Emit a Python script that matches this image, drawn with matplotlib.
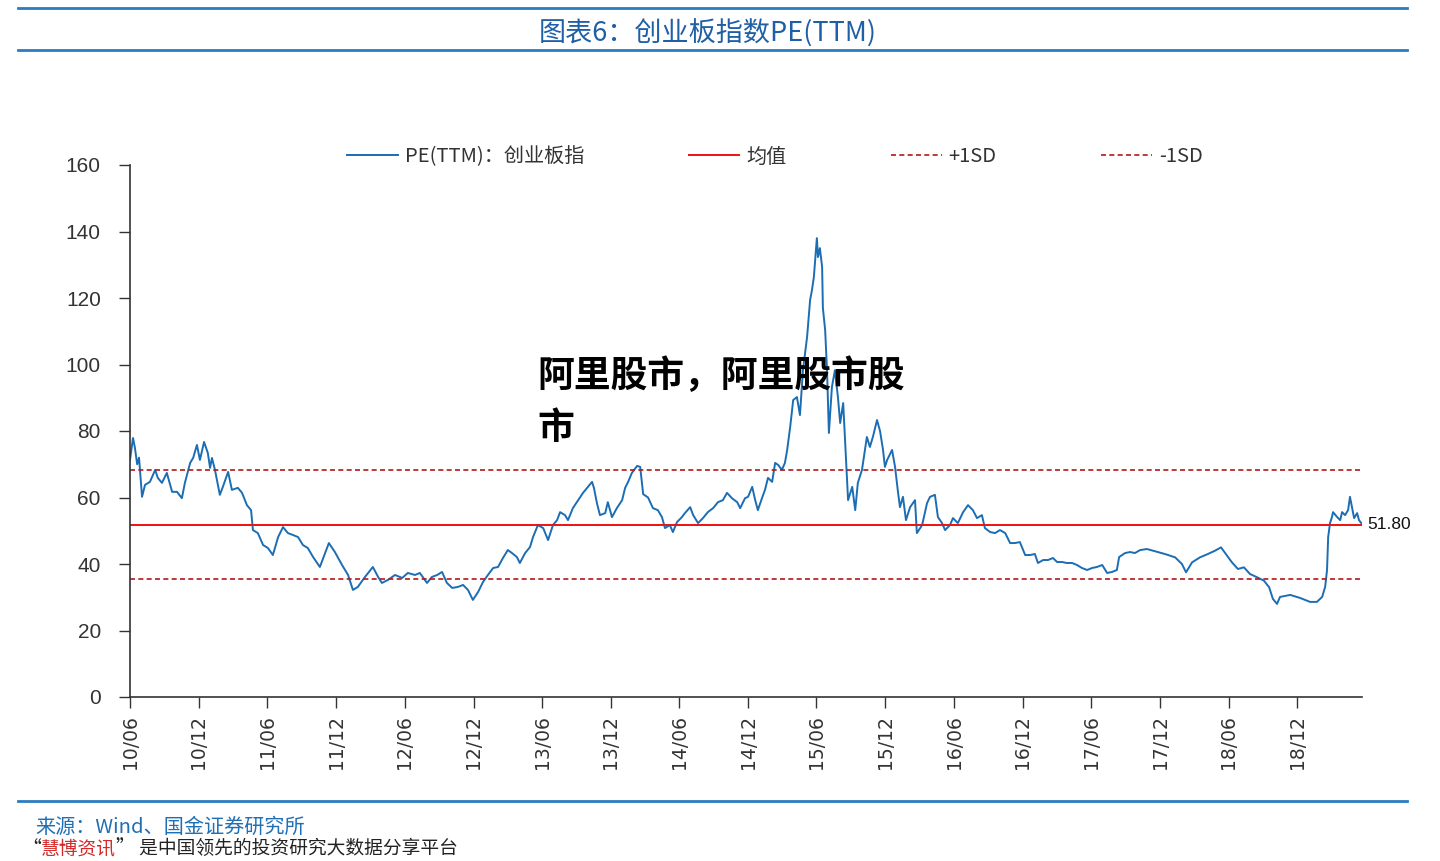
import numpy as np
import pandas as pd
import matplotlib
matplotlib.use("Agg")
import matplotlib.pyplot as plt
import matplotlib.dates as mdates
import matplotlib.transforms as mtransforms
from matplotlib.lines import Line2D

CJK = ['Noto Sans CJK SC', 'DejaVu Sans']
plt.rcParams['font.family'] = CJK

# ChiNext PE(TTM), values (month-day per year)
days_2010 = ['06-01', '06-09', '06-14', '06-20', '06-25', '07-03', '07-11', '07-24', '08-07', '08-14',
             '08-25', '09-07', '09-21', '10-04', '10-17', '10-25', '11-08', '11-16', '11-26', '12-04',
             '12-15', '12-25', '12-31']
pe_2010 = [71.3, 77.9, 75.0, 70.0, 72.0, 60.2, 63.8, 64.7, 68.3, 65.9,
           64.4, 67.4, 61.7, 61.7, 59.8, 64.4, 70.4, 71.9, 75.8, 71.3,
           76.7, 73.4, 68.9]

days_2011 = ['01-05', '01-13', '01-26', '02-03', '02-17', '02-27', '03-15', '03-26', '04-08', '04-19',
             '04-24', '05-07', '05-21', '06-03', '06-16', '06-30', '07-13', '07-26', '08-09', '08-22',
             '09-04', '09-17', '10-01', '10-19', '11-02', '11-12', '11-28', '12-17']
pe_2011 = [71.9, 68.3, 60.8, 63.2, 67.7, 62.3, 62.9, 61.4, 57.7, 56.2,
           50.2, 49.3, 45.7, 44.8, 42.7, 48.1, 51.1, 49.3, 48.7, 48.1,
           45.7, 44.8, 42.1, 39.1, 43.3, 46.3, 43.6, 39.7]

days_2012 = ['01-02', '01-15', '01-28', '02-16', '03-08', '03-22', '04-01', '04-17', '05-06', '05-25',
             '06-09', '06-28', '07-11', '07-30', '08-12', '08-26', '09-08', '09-21', '10-05', '10-20',
             '11-03', '11-16', '11-29', '12-13', '12-26']
pe_2012 = [36.7, 32.2, 33.1, 36.1, 39.1, 36.1, 34.3, 35.2, 36.7, 35.8,
           37.3, 36.7, 37.3, 34.3, 36.1, 36.7, 37.6, 34.3, 32.8, 33.1,
           33.7, 32.2, 29.2, 31.6, 34.6]

days_2013 = ['01-08', '01-22', '02-04', '02-17', '03-02', '03-13', '03-26', '04-03', '04-17', '04-30',
             '05-08', '05-21', '06-04', '06-17', '06-30', '07-11', '07-19', '08-01', '08-09', '08-22',
             '09-05', '09-18', '10-01', '10-12', '10-17', '10-25', '11-02', '11-16', '11-23', '12-04',
             '12-17', '12-31']
pe_2013 = [36.7, 38.8, 39.1, 41.8, 44.2, 43.3, 42.1, 40.3, 43.3, 45.1,
           48.1, 51.7, 50.8, 47.2, 51.7, 53.2, 55.6, 54.7, 53.2, 56.8,
           59.2, 61.4, 63.2, 64.7, 62.9, 58.3, 54.7, 55.3, 58.6, 54.1,
           56.8, 59.2]

days_2014 = ['01-08', '01-16', '01-26', '02-09', '02-17', '02-25', '03-10', '03-23', '04-05', '04-16',
             '04-24', '05-07', '05-15', '05-26', '06-08', '06-16', '06-30', '07-08', '07-21', '08-03',
             '08-16', '08-30', '09-12', '09-25', '10-06', '10-19', '11-02', '11-10', '11-23', '12-01',
             '12-12', '12-20', '12-27']
pe_2014 = [62.9, 64.7, 67.4, 69.5, 69.2, 61.0, 60.0, 56.8, 56.2, 54.1,
           50.8, 51.7, 49.6, 52.6, 54.1, 55.3, 57.1, 54.7, 52.3, 53.8,
           55.6, 56.8, 58.6, 59.2, 61.4, 59.8, 58.6, 56.8, 59.8, 60.2,
           63.2, 59.2, 56.2]

days_2015 = ['01-07', '01-15', '01-23', '02-03', '02-11', '02-19', '03-01', '03-09', '03-15', '03-23',
             '03-31', '04-10', '04-18', '04-26', '05-07', '05-15', '05-20', '05-25', '06-02', '06-05',
             '06-10', '06-16', '06-18', '06-24', '06-29', '07-04', '07-12', '07-20', '07-28', '08-03',
             '08-11', '08-19', '08-24', '09-04', '09-12', '09-19', '09-30', '10-13', '10-21', '10-29',
             '11-09', '11-17', '11-25', '11-30', '12-06', '12-19', '12-27']
pe_2015 = [59.8, 62.3, 65.9, 64.7, 70.4, 69.8, 68.3, 70.4, 74.3, 81.2,
           89.3, 90.2, 84.8, 98.3, 108.3, 119.4, 122.4, 126.3, 138.0, 132.3,
           135.0, 129.3, 117.0, 110.4, 98.3, 79.4, 93.2, 98.3, 90.2, 82.4,
           88.4, 70.4, 59.2, 63.2, 56.2, 64.4, 68.3, 78.2, 75.2, 78.2,
           83.3, 80.0, 74.3, 69.2, 71.3, 74.3, 69.2]

days_2016 = ['01-04', '01-09', '01-17', '01-25', '02-05', '02-18', '02-23', '03-08', '03-21', '03-29',
             '04-11', '04-19', '04-30', '05-08', '05-21', '05-29', '06-11', '06-25', '07-08', '07-21',
             '08-01', '08-14', '08-22', '09-05', '09-18', '10-01', '10-15', '10-28', '11-10', '11-23',
             '12-07', '12-20']
pe_2016 = [61.4, 57.1, 60.2, 53.2, 57.1, 59.2, 49.3, 51.7, 58.3, 60.2,
           60.8, 54.1, 52.3, 50.2, 51.7, 53.8, 52.3, 55.6, 57.7, 56.2,
           53.8, 54.7, 50.8, 49.6, 49.3, 50.2, 49.3, 46.3, 46.3, 46.6,
           42.7, 42.7]

days_2017 = ['01-02', '01-10', '01-24', '02-06', '02-19', '03-02', '03-15', '03-28', '04-11', '04-24',
             '05-07', '05-21', '06-03', '06-16', '06-30', '07-13', '07-26', '08-08', '08-14', '08-30',
             '09-12', '09-25', '10-09', '10-27', '11-18', '12-14']
pe_2017 = [43.0, 40.3, 41.2, 41.2, 41.8, 40.6, 40.6, 40.3, 40.3, 39.7,
           38.8, 38.2, 38.8, 39.1, 39.7, 37.3, 37.6, 38.2, 42.1, 43.3,
           43.6, 43.3, 44.2, 44.5, 43.8, 43.0]

days_2018 = ['01-10', '01-28', '02-08', '02-24', '03-17', '04-07', '04-26', '05-12', '05-25', '06-10',
             '06-26', '07-12', '07-28', '08-16', '09-03', '09-17', '09-27', '10-08', '10-16', '11-12',
             '12-08']
pe_2018 = [42.0, 40.0, 37.5, 40.5, 42.0, 43.0, 44.0, 45.0, 43.0, 40.5,
           38.5, 39.0, 37.0, 36.0, 35.0, 33.0, 29.5, 28.0, 30.1, 30.7,
           29.8]

days_2019 = ['01-04', '01-22', '02-05', '02-13', '02-18', '02-21', '02-26', '03-03', '03-06', '03-17',
             '03-25', '03-30', '04-07', '04-15', '04-20', '04-26', '05-01', '05-09', '05-14', '05-20']
pe_2019 = [28.6, 28.6, 30.1, 33.1, 38.2, 48.1, 52.3, 54.1, 55.6, 54.1,
           53.2, 55.6, 54.7, 56.2, 60.2, 56.8, 53.8, 55.3, 53.2, 52.3]

pe_mean = 51.80
pe_sd = 16.45

years = {2010: (days_2010, pe_2010), 2011: (days_2011, pe_2011), 2012: (days_2012, pe_2012),
         2013: (days_2013, pe_2013), 2014: (days_2014, pe_2014), 2015: (days_2015, pe_2015),
         2016: (days_2016, pe_2016), 2017: (days_2017, pe_2017), 2018: (days_2018, pe_2018),
         2019: (days_2019, pe_2019)}

dates = []
values = []
for yr, (days, vals) in years.items():
    dates += [f"{yr}-{d}" for d in days]
    values += vals
dates = pd.to_datetime(dates)
values = np.array(values)

W, H = 1440, 861
fig = plt.figure(figsize=(W / 100, H / 100), dpi=100)
ax = fig.add_axes([130 / W, 1 - 697 / H, (1362 - 130) / W, (697 - 165) / H])

blue = '#1b6db4'
ax.plot(dates, values, color=blue, lw=1.4, label='PE(TTM)：创业板指')
ax.axhline(pe_mean, color='#ee1111', lw=1.4, label='均值')
ax.axhline(pe_mean + pe_sd, color='#b51818', lw=1.2, ls=(0, (3, 2)), label='+1SD')
ax.axhline(pe_mean - pe_sd, color='#b51818', lw=1.2, ls=(0, (3, 2)), label='-1SD')

ax.set_xlim(pd.Timestamp('2010-06-01'), pd.Timestamp('2019-05-22'))
ax.set_ylim(0, 160)
ax.set_yticks(np.arange(0, 161, 20))
ax.set_xticks(pd.date_range('2010-06-01', '2018-12-01', freq='6MS'))
ax.xaxis.set_major_formatter(mdates.DateFormatter('%y/%m'))

for s in ['top', 'right']:
    ax.spines[s].set_visible(False)
for s in ['left', 'bottom']:
    ax.spines[s].set_color('#333333')
    ax.spines[s].set_linewidth(1.2)

ax.tick_params(axis='x', direction='out', length=8, width=1, color='#333333',
               labelrotation=90, labelsize=13.5, labelcolor='#333333', pad=5)
ax.tick_params(axis='y', direction='out', length=8, width=1, color='#333333',
               labelsize=15, labelcolor='#333333', pad=13)
for lab in ax.get_xticklabels():
    lab.set_family('DejaVu Sans')
for lab in ax.get_yticklabels():
    lab.set_family(['Liberation Sans', 'DejaVu Sans'])

# mean value label at right end
trans = mtransforms.blended_transform_factory(ax.transAxes, ax.transData)
ax.text(1.004, pe_mean, f"{pe_mean:.2f}", transform=trans, va='center', ha='left',
        fontsize=12.5, family=['Liberation Sans', 'DejaVu Sans'], color='#111111', clip_on=False)

fig.legend(loc='center', bbox_to_anchor=(775 / W, 1 - 157 / H), ncol=4, frameon=False,
           fontsize=14.5, handlelength=2.5, handletextpad=0.35, columnspacing=5.2,
           labelcolor='#333333')

# header / footer rules
rule_c = '#2b7cc0'
for yy in [8, 50, 801]:
    fig.add_artist(Line2D([18 / W, 1407 / W], [1 - yy / H] * 2, transform=fig.transFigure,
                          color=rule_c, lw=2))

fig.text(708 / W, 1 - 34 / H, '图表6：创业板指数PE(TTM)', ha='center', va='center',
         fontsize=19.5, color='#1f5fa6')

fig.text(537 / W, 1 - 358 / H, '阿里股市，阿里股市股\n市', ha='left', va='top',
         fontsize=26.5, fontweight='bold', color='black', linespacing=1.5)

fig.text(35 / W, 1 - 827 / H, '来源：Wind、国金证券研究所', ha='left', va='center',
         fontsize=14.5, color='#1f6fb5')

# last line of the page
renderer = fig.canvas.get_renderer()
x0 = 22 / W
yb = 1 - 849 / H
for part, col in [('“', '#222222'), ('慧博资讯', '#d42a2a'), ('” 是中国领先的投资研究大数据分享平台', '#222222')]:
    t = fig.text(x0, yb, part, ha='left', va='center', fontsize=13.5, color=col)
    bb = t.get_window_extent(renderer)
    x0 = bb.x1 / W

fig.savefig('out.png', dpi=100)
